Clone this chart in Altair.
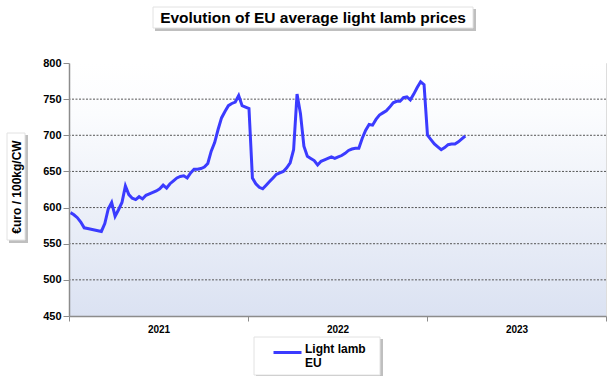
import altair as alt
import pandas as pd

# ---- data ----
week_start = "2021-01-04"
prices = [593, 590, 586, 580, 572, 571, 570, 569, 568, 567,
          578, 598, 607, 588, 597, 607, 630, 618, 613, 611,
          615, 612, 617, 619, 621, 623, 626, 631, 627, 633,
          637, 641, 643, 644, 641, 648, 653, 653, 654, 656,
          661, 678, 690, 708, 724, 733, 741, 744, 746, 755,
          741, 739, 737, 641, 633, 628, 626, 631, 636, 641,
          646, 648, 650, 655, 662, 680, 757, 730, 685, 671,
          668, 665, 659, 664, 666, 668, 670, 668, 670, 672,
          675, 679, 681, 682, 682, 696, 707, 715, 714, 722,
          728, 731, 734, 739, 745, 747, 747, 752, 753, 749,
          757, 766, 774, 770, 700, 694, 688, 684, 680, 683,
          687, 688, 688, 691, 695, 699]
year_ticks = [2021, 2022, 2023, 2024]
y_ticks = [450, 500, 550, 600, 650, 700, 750, 800]
grid_values = [500, 550, 600, 650, 700, 750]
series_name = "Light lamb EU"
chart_title = "Evolution of EU average light lamb prices"

df = pd.DataFrame({
    "week": pd.date_range(week_start, periods=len(prices), freq="7D"),
    "price": prices,
    "series": series_name,
})
grid_df = pd.DataFrame({"level": grid_values})
one = pd.DataFrame({"k": [0]})
title_df = pd.DataFrame({"t": [chart_title]})

W, H = 537, 253
FONT = "Liberation Sans"
BLUE = "#3b3bff"

xscale = alt.Scale(domain=[alt.DateTime(year=year_ticks[0], month=1, date=1),
                           alt.DateTime(year=year_ticks[-1], month=1, date=1)])
yscale = alt.Scale(domain=[y_ticks[0], y_ticks[-1]], nice=False, zero=False)

y_axis = alt.Axis(values=y_ticks, title="€uro / 100kg/CW",
                  titleFont=FONT, titleFontSize=12, titleFontWeight="bold", titleColor="#000",
                  titleAngle=270, titleX=-53, titleY=123.5, titleAlign="center",
                  titleBaseline="middle", labelOverlap=False, labelFlush=False,
                  labelFont=FONT, labelFontSize=11, labelFontWeight="bold", labelColor="#000",
                  labelPadding=2, tickSize=6, tickColor="#8c8c8c", domainColor="#8c8c8c",
                  domainWidth=1.5, grid=False, zindex=1)

# plot-area gradient background
bg = alt.Chart(one).mark_rect(
    color=alt.LinearGradient(
        gradient="linear",
        stops=[alt.GradientStop(color="#ffffff", offset=0),
               alt.GradientStop(color="#fbfcfe", offset=0.2),
               alt.GradientStop(color="#dbe2f2", offset=1)],
        x1=0, x2=0, y1=0, y2=1)
).encode(x=alt.value(0), x2=alt.value(W), y=alt.value(0), y2=alt.value(H))


def framed_box(x, x2, y, y2):
    shadow = alt.Chart(one).mark_rect(color="#8a8a8a", opacity=0.55).encode(
        x=alt.value(x + 2), x2=alt.value(x2 + 3), y=alt.value(y + 2), y2=alt.value(y2 + 3))
    face = alt.Chart(one).mark_rect(color="#ffffff", stroke="#e2e2e2", strokeWidth=1).encode(
        x=alt.value(x), x2=alt.value(x2), y=alt.value(y), y2=alt.value(y2))
    return [shadow, face]


boxes = (framed_box(84, 404, -56, -35)       # title box
         + framed_box(-62, -44, 70, 177)      # y-title box
         + framed_box(185, 311, 274, 312))    # legend box

title_text = alt.Chart(title_df).mark_text(
    font=FONT, fontSize=15.5, fontWeight="bold", color="#000", align="center", baseline="middle"
).encode(text="t:N", x=alt.value(244), y=alt.value(-45.5))

grid = alt.Chart(grid_df).mark_rule(color="#555555", strokeDash=[2, 1.5], strokeWidth=1).encode(
    y=alt.Y("level:Q", scale=yscale, axis=y_axis)
)

line = alt.Chart(df).mark_line(strokeWidth=3).encode(
    x=alt.X("week:T", scale=xscale, title=None,
            axis=alt.Axis(values=[alt.DateTime(year=y, month=1, date=1) for y in year_ticks],
                          labelExpr="year(datum.value) < 2024 ? '' + year(datum.value) : ''",
                          labelOffset=W / 6, labelOverlap=False, labelFlush=False, labelBound=False,
                          labelFont=FONT, labelFontSize=10, labelFontWeight="bold", labelColor="#000",
                          labelPadding=3, tickSize=5, tickColor="#8c8c8c", domainColor="#8c8c8c",
                          domainWidth=1.5, grid=False, zindex=1)),
    y=alt.Y("price:Q", scale=yscale, axis=y_axis),
    color=alt.Color("series:N", scale=alt.Scale(range=[BLUE]),
                    legend=alt.Legend(orient="none", legendX=203, legendY=274, title=None,
                                      symbolType="stroke", symbolStrokeWidth=3, symbolSize=784,
                                      labelExpr="['Light lamb', 'EU']", labelBaseline="alphabetic",
                                      labelFont=FONT, labelFontSize=12, labelFontWeight="bold",
                                      labelColor="#000", labelOffset=2, padding=0)),
)

chart = alt.layer(bg, *boxes, title_text, grid, line).properties(
    width=W, height=H,
    autosize=alt.AutoSizeParams(type="none"),
    padding={"left": 69, "top": 63, "right": 10, "bottom": 60},
).configure_view(stroke="#d0d0d0", strokeWidth=2).configure(background="#ffffff")

chart.save("out.html", embed_options={"renderer": "svg", "actions": False})
